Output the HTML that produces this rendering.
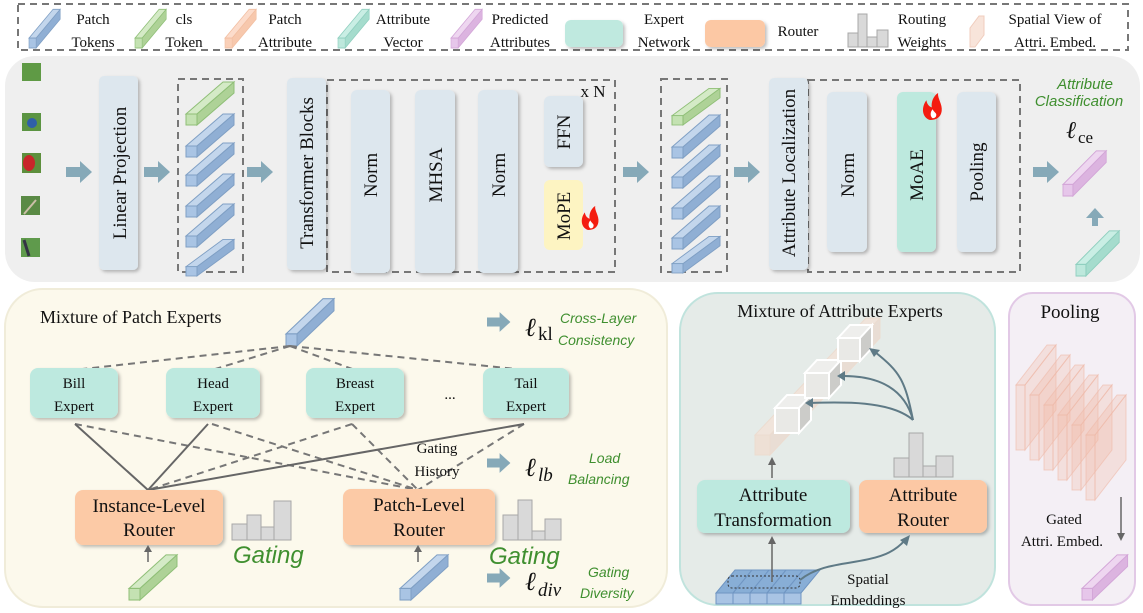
<!DOCTYPE html>
<html><head><meta charset="utf-8"><style>
html,body{margin:0;padding:0;background:#fff;}
svg{display:block;}
.s{font-family:"Liberation Serif",serif;fill:#111;}
.g{font-family:"Liberation Sans",sans-serif;font-style:italic;fill:#3f8f2f;}
</style></head><body>
<svg width="1143" height="613" viewBox="0 0 1143 613" xmlns="http://www.w3.org/2000/svg">
<defs>
  <g id="tB"><polygon points="0,-11 11,-11 48,-43 37,-43" fill="#c3d6ec" stroke="#7f9fc4" stroke-width="1"/><polygon points="11,-11 11,0 48,-32 48,-43" fill="#90afd4" stroke="#7f9fc4" stroke-width="1"/><rect x="0" y="-11" width="11" height="11" fill="#a9c4e4" stroke="#7f9fc4" stroke-width="1"/></g>
  <g id="tG"><polygon points="0,-11 11,-11 48,-43 37,-43" fill="#d4eac6" stroke="#8fbf77" stroke-width="1"/><polygon points="11,-11 11,0 48,-32 48,-43" fill="#aed297" stroke="#8fbf77" stroke-width="1"/><rect x="0" y="-11" width="11" height="11" fill="#c4e2b2" stroke="#8fbf77" stroke-width="1"/></g>
  <g id="tP"><polygon points="0,-11 11,-11 48,-43 37,-43" fill="#eed6f0" stroke="#d3a6d8" stroke-width="1"/><polygon points="11,-11 11,0 48,-32 48,-43" fill="#dcb4e0" stroke="#d3a6d8" stroke-width="1"/><rect x="0" y="-11" width="11" height="11" fill="#e6c6ea" stroke="#d3a6d8" stroke-width="1"/></g>
  <g id="tT"><polygon points="0,-11 11,-11 48,-43 37,-43" fill="#c9eee4" stroke="#8fcfbf" stroke-width="1"/><polygon points="11,-11 11,0 48,-32 48,-43" fill="#a5dccd" stroke="#8fcfbf" stroke-width="1"/><rect x="0" y="-11" width="11" height="11" fill="#bde8dc" stroke="#8fcfbf" stroke-width="1"/></g>
  <g id="tO"><polygon points="0,-11 11,-11 48,-43 37,-43" fill="#fcdccb" stroke="#f2bfa2" stroke-width="1"/><polygon points="11,-11 11,0 48,-32 48,-43" fill="#f7c8ad" stroke="#f2bfa2" stroke-width="1"/><rect x="0" y="-11" width="11" height="11" fill="#fad0b8" stroke="#f2bfa2" stroke-width="1"/></g>
  <g id="arr"><polygon points="0,-5 14,-5 14,-11 26,0 14,11 14,5 0,5" fill="#86a9b8"/></g>
  <g id="flame"><path d="M0,0 C-9,-3 -10,-14 -4,-22 C-3,-16 0,-15 2,-14 C1,-20 4,-27 9,-30 C8,-24 14,-18 13,-10 C12,-3 7,0 0,0 Z" fill="#f41d10"/><path d="M3,-2 C0,-4 0,-9 3,-12 C4,-9 7,-8 7,-6 C7,-3 5,-2 3,-2Z" fill="#fff"/></g>
  <filter id="sh" x="-10%" y="-10%" width="130%" height="130%"><feDropShadow dx="2" dy="2" stdDeviation="1.5" flood-color="#000" flood-opacity="0.25"/></filter>
</defs>

<!-- Legend -->
<rect x="18" y="4" width="1110" height="46" fill="none" stroke="#777" stroke-width="2" stroke-dasharray="7,5"/>
<use href="#tB" transform="translate(29,48) scale(0.65,0.9)"/>
<text class="s" font-size="15" x="93" y="24" text-anchor="middle">Patch</text><text class="s" font-size="15" x="93" y="47" text-anchor="middle">Tokens</text>
<use href="#tG" transform="translate(135,48) scale(0.65,0.9)"/>
<text class="s" font-size="15" x="184" y="24" text-anchor="middle">cls</text><text class="s" font-size="15" x="184" y="47" text-anchor="middle">Token</text>
<use href="#tO" transform="translate(225,48) scale(0.65,0.9)"/>
<text class="s" font-size="15" x="285" y="24" text-anchor="middle">Patch</text><text class="s" font-size="15" x="285" y="47" text-anchor="middle">Attribute</text>
<use href="#tT" transform="translate(338,48) scale(0.65,0.9)"/>
<text class="s" font-size="15" x="403" y="24" text-anchor="middle">Attribute</text><text class="s" font-size="15" x="403" y="47" text-anchor="middle">Vector</text>
<use href="#tP" transform="translate(451,48) scale(0.65,0.9)"/>
<text class="s" font-size="15" x="520" y="24" text-anchor="middle">Predicted</text><text class="s" font-size="15" x="520" y="47" text-anchor="middle">Attributes</text>
<rect x="565" y="20" width="58" height="27" rx="6" fill="#bfe9df" filter="url(#sh)"/>
<text class="s" font-size="15" x="664" y="24" text-anchor="middle">Expert</text><text class="s" font-size="15" x="664" y="47" text-anchor="middle">Network</text>
<rect x="705" y="20" width="60" height="27" rx="6" fill="#fcc8a4" filter="url(#sh)"/>
<text class="s" font-size="15" x="798" y="36" text-anchor="middle">Router</text>
<g fill="#d9d9d9" stroke="#a8a8a8" stroke-width="1"><rect x="848" y="33" width="10" height="14"/><rect x="858" y="14" width="9" height="33"/><rect x="867" y="37" width="10" height="10"/><rect x="877" y="30" width="11" height="17"/></g>
<text class="s" font-size="15" x="922" y="24" text-anchor="middle">Routing</text><text class="s" font-size="15" x="922" y="47" text-anchor="middle">Weights</text>
<polygon points="970,47 975,47 984,35 984,16 979,16 970,28" fill="#f8e4da" stroke="#f0cdbd"/>
<text class="s" font-size="15" x="1055" y="24" text-anchor="middle">Spatial View of</text><text class="s" font-size="15" x="1055" y="47" text-anchor="middle">Attri. Embed.</text>

<!-- Main panel -->
<rect x="5" y="56" width="1135" height="226" rx="30" fill="#efefef"/>
<!-- bird patches -->
<rect x="22" y="63" width="19" height="18" fill="#5f9a45"/>
<rect x="22" y="113" width="19" height="18" fill="#5b9442"/><circle cx="32" cy="123" r="5" fill="#2f5fa8"/>
<rect x="22" y="153" width="19" height="20" fill="#5d8f3c"/><ellipse cx="29" cy="163" rx="6" ry="8" fill="#c8262a"/>
<rect x="21" y="196" width="19" height="19" fill="#5a8a45"/><line x1="24" y1="214" x2="36" y2="200" stroke="#cbbfa8" stroke-width="2"/>
<rect x="21" y="238" width="19" height="19" fill="#5f9a4c"/><path d="M24,240 L29,256" stroke="#334" stroke-width="3"/>

<use href="#arr" transform="translate(66,172)"/>
<rect x="99" y="76" width="39" height="194" rx="5" fill="#dde7ee" filter="url(#sh)"/>
<text class="s" font-size="19" transform="translate(126,173) rotate(-90)" text-anchor="middle">Linear Projection</text>
<use href="#arr" transform="translate(144,172)"/>
<rect x="178" y="79" width="65" height="193" fill="none" stroke="#777" stroke-width="2" stroke-dasharray="7,5"/>
<use href="#tG" transform="translate(186,125)"/>
<use href="#tB" transform="translate(186,157)"/>
<use href="#tB" transform="translate(186,186)"/>
<use href="#tB" transform="translate(186,217)"/>
<use href="#tB" transform="translate(186,247)"/>
<use href="#tB" transform="translate(186,276) scale(1,0.85)"/>
<use href="#arr" transform="translate(247,172)"/>
<rect x="327" y="80" width="288" height="192" fill="none" stroke="#777" stroke-width="2" stroke-dasharray="7,5"/>
<rect x="287" y="78" width="39" height="192" rx="5" fill="#dde7ee" filter="url(#sh)"/>
<text class="s" font-size="19" transform="translate(313,173) rotate(-90)" text-anchor="middle">Transformer Blocks</text>
<text class="s" font-size="17" x="593" y="97" text-anchor="middle">x N</text>
<rect x="351" y="105" width="39" height="183" rx="6" fill="#dde7ee" filter="url(#sh)" transform="translate(0,-15)"/>
<text class="s" font-size="19" transform="translate(377,175) rotate(-90)" text-anchor="middle">Norm</text>
<rect x="415" y="90" width="40" height="183" rx="6" fill="#dde7ee" filter="url(#sh)"/>
<text class="s" font-size="19" transform="translate(442,175) rotate(-90)" text-anchor="middle">MHSA</text>
<rect x="478" y="90" width="40" height="183" rx="6" fill="#dde7ee" filter="url(#sh)"/>
<text class="s" font-size="19" transform="translate(505,175) rotate(-90)" text-anchor="middle">Norm</text>
<rect x="544" y="96" width="39" height="71" rx="6" fill="#dde7ee" filter="url(#sh)"/>
<text class="s" font-size="19" transform="translate(570,132) rotate(-90)" text-anchor="middle">FFN</text>
<rect x="544" y="180" width="39" height="70" rx="6" fill="#fdf4c2"/>
<text class="s" font-size="19" transform="translate(570,216) rotate(-90)" text-anchor="middle">MoPE</text>
<use href="#flame" transform="translate(588,230) scale(0.8)"/>

<use href="#arr" transform="translate(623,172)"/>
<rect x="661" y="79" width="66" height="193" fill="none" stroke="#777" stroke-width="2" stroke-dasharray="7,5"/>
<use href="#tG" transform="translate(672,125) scale(1,0.85)"/>
<use href="#tB" transform="translate(672,158)"/>
<use href="#tB" transform="translate(672,188)"/>
<use href="#tB" transform="translate(672,219)"/>
<use href="#tB" transform="translate(672,249)"/>
<use href="#tB" transform="translate(672,273) scale(1,0.85)"/>
<use href="#arr" transform="translate(734,172)"/>
<rect x="808" y="80" width="212" height="192" fill="none" stroke="#777" stroke-width="2" stroke-dasharray="7,5"/>
<rect x="769" y="78" width="39" height="192" rx="5" fill="#dde7ee" filter="url(#sh)"/>
<text class="s" font-size="19" transform="translate(795,173) rotate(-90)" text-anchor="middle">Attribute Localization</text>
<rect x="827" y="92" width="40" height="160" rx="6" fill="#dde7ee" filter="url(#sh)"/>
<text class="s" font-size="19" transform="translate(854,175) rotate(-90)" text-anchor="middle">Norm</text>
<rect x="897" y="92" width="39" height="160" rx="6" fill="#bde9de" filter="url(#sh)"/>
<text class="s" font-size="19" transform="translate(923,175) rotate(-90)" text-anchor="middle">MoAE</text>
<use href="#flame" transform="translate(930,120) scale(0.9)"/>
<rect x="957" y="92" width="39" height="160" rx="6" fill="#dde7ee" filter="url(#sh)"/>
<text class="s" font-size="19" transform="translate(983,172) rotate(-90)" text-anchor="middle">Pooling</text>
<use href="#arr" transform="translate(1033,172)"/>
<text class="g" font-size="15" x="1085" y="89" text-anchor="middle">Attribute</text>
<text class="g" font-size="15" x="1079" y="106" text-anchor="middle">Classification</text>
<text class="s" font-size="24" font-style="italic" x="1066" y="138">ℓ</text><text class="s" font-size="17" x="1078" y="143">ce</text>
<use href="#tP" transform="translate(1063,196) scale(0.9,1.05)"/>
<polygon points="1093,216 1093,208 1087,208 1096,198 1105,208 1099,208 1099,216" fill="#86a9b8" transform="translate(-1,10) scale(1)"/>
<use href="#tT" transform="translate(1076,276) scale(0.9,1.05)"/>

<!-- MoPE panel -->
<rect x="5" y="289" width="662" height="318" rx="38" fill="#fcf9ec" stroke="#f0ecd9" stroke-width="2"/>
<text class="s" font-size="18" x="40" y="323">Mixture of Patch Experts</text>
<use href="#tB" transform="translate(286,346) scale(1,1.1)"/>
<g stroke="#777" stroke-width="2" stroke-dasharray="7,5" fill="none">
  <line x1="290" y1="346" x2="74" y2="370"/><line x1="290" y1="346" x2="212" y2="370"/>
  <line x1="290" y1="346" x2="355" y2="370"/><line x1="290" y1="346" x2="526" y2="370"/>
  <line x1="75" y1="424" x2="418" y2="490"/><line x1="212" y1="424" x2="418" y2="490"/>
  <line x1="352" y1="424" x2="148" y2="490"/><line x1="352" y1="424" x2="418" y2="490"/>
  <line x1="524" y1="424" x2="418" y2="490"/>
</g>
<g stroke="#666" stroke-width="2" fill="none">
  <line x1="75" y1="424" x2="148" y2="490"/><line x1="208" y1="424" x2="148" y2="490"/><line x1="524" y1="424" x2="148" y2="490"/>
</g>
<g filter="url(#sh)" fill="#bde9df">
  <rect x="30" y="368" width="88" height="50" rx="8"/><rect x="166" y="368" width="94" height="50" rx="8"/>
  <rect x="306" y="368" width="98" height="50" rx="8"/><rect x="483" y="368" width="86" height="50" rx="8"/>
</g>
<g class="s" font-size="15" text-anchor="middle">
<text x="74" y="388">Bill</text><text x="74" y="411">Expert</text>
<text x="213" y="388">Head</text><text x="213" y="411">Expert</text>
<text x="355" y="388">Breast</text><text x="355" y="411">Expert</text>
<text x="450" y="399">...</text>
<text x="526" y="388">Tail</text><text x="526" y="411">Expert</text>
<text x="437" y="453">Gating</text><text x="437" y="476">History</text>
</g>
<rect x="75" y="490" width="148" height="55" rx="8" fill="#fccaa6" filter="url(#sh)"/>
<rect x="343" y="489" width="152" height="56" rx="8" fill="#fccaa6" filter="url(#sh)"/>
<g class="s" font-size="19" text-anchor="middle">
<text x="149" y="512">Instance-Level</text><text x="149" y="536">Router</text>
<text x="419" y="511">Patch-Level</text><text x="419" y="536">Router</text>
</g>
<g fill="#d9d9d9" stroke="#a8a8a8" stroke-width="1">
  <rect x="232" y="524" width="15" height="16"/><rect x="247" y="515" width="14" height="25"/><rect x="261" y="527" width="13" height="13"/><rect x="274" y="501" width="17" height="39"/>
  <rect x="503" y="515" width="15" height="25"/><rect x="518" y="500" width="14" height="40"/><rect x="532" y="531" width="13" height="9"/><rect x="545" y="519" width="16" height="21"/>
</g>
<text class="g" font-size="24" x="233" y="563">Gating</text>
<text class="g" font-size="24" x="489" y="564">Gating</text>
<g stroke="#666" stroke-width="1.5"><line x1="148" y1="562" x2="148" y2="549"/><line x1="418" y1="562" x2="418" y2="549"/></g>
<polygon points="144,552 148,545 152,552" fill="#666"/><polygon points="414,552 418,545 422,552" fill="#666"/>
<use href="#tG" transform="translate(129,600) scale(1,1.05)"/>
<use href="#tB" transform="translate(400,600) scale(1,1.05)"/>
<use href="#arr" transform="translate(487,322) scale(0.9)"/>
<use href="#arr" transform="translate(487,463) scale(0.9)"/>
<use href="#arr" transform="translate(487,578) scale(0.9)"/>
<text class="s" font-size="26" font-style="italic" x="525" y="336">ℓ</text><text class="s" font-size="19" x="538" y="340">kl</text>
<text class="s" font-size="26" font-style="italic" x="525" y="476">ℓ</text><text class="s" font-size="19" font-style="italic" x="538" y="481">lb</text>
<text class="s" font-size="26" font-style="italic" x="525" y="590">ℓ</text><text class="s" font-size="19" font-style="italic" x="538" y="596">div</text>
<g class="g" font-size="14">
<text x="560" y="323">Cross-Layer</text><text x="558" y="345">Consistency</text>
<text x="589" y="463">Load</text><text x="568" y="484">Balancing</text>
<text x="588" y="577">Gating</text><text x="580" y="598">Diversity</text>
</g>

<!-- MoAE panel -->
<rect x="680" y="293" width="315" height="312" rx="38" fill="#e5ebe8" stroke="#c0e3dd" stroke-width="2"/>
<text class="s" font-size="18" x="840" y="317" text-anchor="middle">Mixture of Attribute Experts</text>
<g opacity="0.7">
<polygon points="755,435 770,435 880,318 866,318" fill="#f5e2d6" stroke="#efd6c6"/>
<polygon points="770,435 770,455 880,338 880,318" fill="#ebd8cc" stroke="#efd6c6"/>
<rect x="755" y="435" width="15" height="20" fill="#f2dccd" stroke="#efd6c6"/>
</g>
<g stroke="#fff" stroke-width="2">
<polygon points="775,408 799,408 811,395 787,395" fill="#eeeeec"/><polygon points="799,408 799,433 811,420 811,395" fill="#ccccc9"/><rect x="775" y="408" width="24" height="25" fill="#e9e9e6"/>
<polygon points="805,373 829,373 841,360 817,360" fill="#eeeeec"/><polygon points="829,373 829,398 841,385 841,360" fill="#ccccc9"/><rect x="805" y="373" width="24" height="25" fill="#e9e9e6"/>
<polygon points="838,338 860,338 872,325 850,325" fill="#eeeeec"/><polygon points="860,338 860,361 872,348 872,325" fill="#ccccc9"/><rect x="838" y="338" width="22" height="23" fill="#e9e9e6"/>
</g>
<g fill="none" stroke="#5f7a86" stroke-width="2">
<path d="M913,420 C905,380 900,372 875,352"/><path d="M913,420 C905,390 880,375 840,376"/><path d="M913,420 C890,400 840,402 808,403"/>
</g>
<g fill="#5f7a86"><polygon points="869,348 880,350 874,357"/><polygon points="837,376 845,371 845,381"/><polygon points="805,403 813,398 813,408"/></g>
<g fill="#d9d9d9" stroke="#a8a8a8" stroke-width="1">
<rect x="894" y="458" width="15" height="19"/><rect x="909" y="433" width="14" height="44"/><rect x="923" y="466" width="13" height="11"/><rect x="936" y="456" width="17" height="21"/>
</g>
<rect x="697" y="480" width="153" height="53" rx="8" fill="#bde9df" filter="url(#sh)"/>
<rect x="859" y="480" width="128" height="53" rx="8" fill="#fcc8a4" filter="url(#sh)"/>
<g class="s" font-size="19" text-anchor="middle">
<text x="773" y="501">Attribute</text><text x="773" y="526">Transformation</text>
<text x="923" y="501">Attribute</text><text x="923" y="526">Router</text>
</g>
<line x1="772" y1="478" x2="772" y2="462" stroke="#666" stroke-width="1.5"/><polygon points="768,465 772,457 776,465" fill="#666"/>
<!-- spatial grid -->
<polygon points="716,593 801,593 820,570 735,570" fill="#88aed6" stroke="#6f95c2"/>
<rect x="716" y="593" width="85" height="11" fill="#a9c4e4" stroke="#6f95c2"/>
<g stroke="#6f95c2" stroke-width="1"><line x1="733" y1="593" x2="733" y2="604"/><line x1="750" y1="593" x2="750" y2="604"/><line x1="767" y1="593" x2="767" y2="604"/><line x1="784" y1="593" x2="784" y2="604"/>
<line x1="733" y1="593" x2="752" y2="570"/><line x1="750" y1="593" x2="769" y2="570"/><line x1="767" y1="593" x2="786" y2="570"/><line x1="784" y1="593" x2="803" y2="570"/></g>
<rect x="728" y="576" width="72" height="12" rx="4" fill="none" stroke="#333" stroke-width="1" stroke-dasharray="2,2"/>
<line x1="772" y1="582" x2="772" y2="540" stroke="#666" stroke-width="1.5"/><polygon points="768,544 772,536 776,544" fill="#666"/>
<path d="M800,580 C830,555 880,570 905,540" fill="none" stroke="#5f7a86" stroke-width="2"/><polygon points="900,540 910,535 907,546" fill="#5f7a86"/>
<g class="s" font-size="15" text-anchor="middle"><text x="868" y="584">Spatial</text><text x="868" y="605">Embeddings</text></g>

<!-- Pooling panel -->
<rect x="1009" y="293" width="126" height="312" rx="24" fill="#f4eff5" stroke="#e2c9e6" stroke-width="2"/>
<text class="s" font-size="19" x="1070" y="318" text-anchor="middle">Pooling</text>
<g fill="#f2b8a4" fill-opacity="0.3" stroke="#efb9a8" stroke-opacity="0.6">
<polygon points="1016,385 1025,385 1056,345 1047,345 1047,345 1016,385"/><polygon points="1016,385 1025,385 1025,450 1016,450"/>
<polygon points="1025,385 1056,345 1056,410 1025,450"/>
<polygon points="1030,395 1039,395 1070,355 1061,355"/><polygon points="1030,395 1039,395 1039,460 1030,460"/><polygon points="1039,395 1070,355 1070,420 1039,460"/>
<polygon points="1044,405 1053,405 1084,365 1075,365"/><polygon points="1044,405 1053,405 1053,470 1044,470"/><polygon points="1053,405 1084,365 1084,430 1053,470"/>
<polygon points="1058,415 1067,415 1098,375 1089,375"/><polygon points="1058,415 1067,415 1067,480 1058,480"/><polygon points="1067,415 1098,375 1098,440 1067,480"/>
<polygon points="1072,425 1081,425 1112,385 1103,385"/><polygon points="1072,425 1081,425 1081,490 1072,490"/><polygon points="1081,425 1112,385 1112,450 1081,490"/>
<polygon points="1086,435 1095,435 1126,395 1117,395"/><polygon points="1086,435 1095,435 1095,500 1086,500"/><polygon points="1095,435 1126,395 1126,460 1095,500"/>
</g>
<g class="s" font-size="15" text-anchor="middle"><text x="1064" y="524">Gated</text><text x="1062" y="546">Attri. Embed.</text></g>
<line x1="1121" y1="497" x2="1121" y2="535" stroke="#666" stroke-width="1.5"/><polygon points="1117,533 1121,541 1125,533" fill="#666"/>
<use href="#tP" transform="translate(1082,600) scale(0.95,1.05)"/>
</svg>
</body></html>
